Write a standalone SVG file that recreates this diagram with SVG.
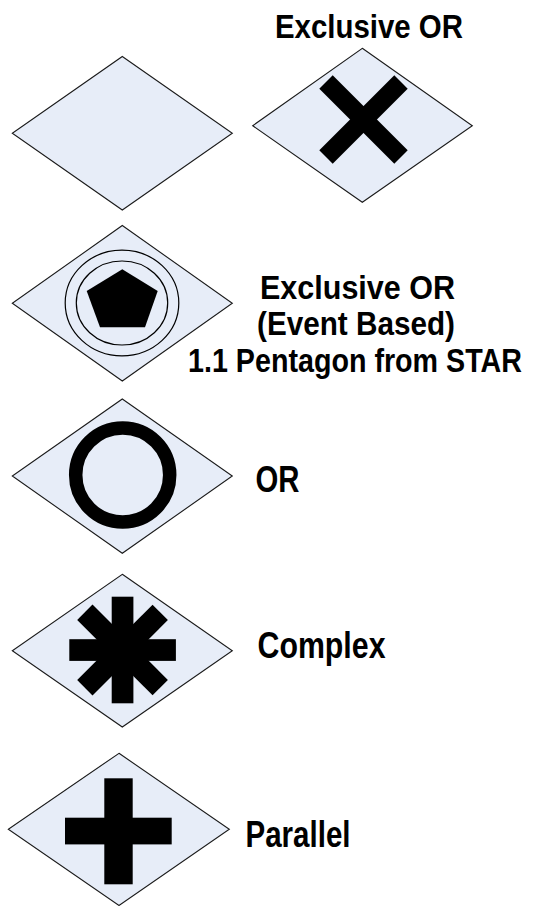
<svg xmlns="http://www.w3.org/2000/svg" width="542" height="906" viewBox="0 0 542 906">
<style>
.gw{fill:#E7EDF8;stroke:#1a1a1a;stroke-width:1.1;stroke-linejoin:miter}
.lbl{font-family:"Liberation Sans",Arial,sans-serif;font-weight:bold;font-size:34px;fill:#000}
.lg{font-size:36px}
.mk{fill:#000}
</style>
<rect width="542" height="906" fill="#fff"/>
<g id="gateway-plain">
<polygon class="gw" points="122.3,56.5 232.3,133.3 122.3,210 12.3,133.3"/>
</g>
<g id="gateway-xor">
<text class="lbl" x="275" y="37.5" textLength="188" lengthAdjust="spacingAndGlyphs">Exclusive OR</text>
<polygon class="gw" points="362.3,48.3 472.3,125.7 362.3,202.3 252.7,125.7"/>
<g stroke="#000" stroke-width="19" stroke-linecap="butt">
<line x1="326" y1="82" x2="401" y2="157"/>
<line x1="401" y1="82" x2="326" y2="157"/>
</g>
</g>
<g id="gateway-event">
<polygon class="gw" points="122.3,225.5 232.3,303.3 122.3,381 12.3,303.3"/>
<ellipse cx="122" cy="303" rx="56.8" ry="52.8" fill="none" stroke="#000" stroke-width="1.2"/>
<ellipse cx="122" cy="303" rx="45.7" ry="42" fill="none" stroke="#000" stroke-width="1.2"/>
<polygon class="mk" points="122.3,269.3 157.7,291 145,327.3 100,327.3 86.7,291"/>
<text class="lbl" x="260" y="298.5" textLength="195" lengthAdjust="spacingAndGlyphs">Exclusive OR</text>
<text class="lbl" x="257" y="335" textLength="198" lengthAdjust="spacingAndGlyphs">(Event Based)</text>
<text class="lbl" x="188" y="371.7" textLength="334" lengthAdjust="spacingAndGlyphs">1.1 Pentagon from STAR</text>
</g>
<g id="gateway-or">
<polygon class="gw" points="122.3,399 232.3,476 122.3,553.3 12.3,476"/>
<circle cx="122.7" cy="475" r="47" fill="none" stroke="#000" stroke-width="13.5"/>
<text class="lbl lg" x="255.5" y="492.3" textLength="44" lengthAdjust="spacingAndGlyphs">OR</text>
</g>
<g id="gateway-complex">
<polygon class="gw" points="122.3,574.3 232.3,650.7 122.3,727 12.3,650.7"/>
<g class="mk">
<rect x="111.7" y="596.7" width="21.7" height="106.6"/>
<rect x="69.3" y="639.2" width="106.6" height="21.7"/>
<rect x="111.7" y="596.7" width="21.7" height="106.6" transform="rotate(45 122.5 650)"/>
<rect x="111.7" y="596.7" width="21.7" height="106.6" transform="rotate(-45 122.5 650)"/>
</g>
<text class="lbl lg" x="257.5" y="658.3" textLength="128" lengthAdjust="spacingAndGlyphs">Complex</text>
</g>
<g id="gateway-parallel">
<polygon class="gw" points="119,753.3 229.3,829.3 119,905.5 8.3,829.3"/>
<g class="mk">
<rect x="104.3" y="778.3" width="28.4" height="106"/>
<rect x="65" y="817.7" width="106.7" height="26.7"/>
</g>
<text class="lbl lg" x="245.5" y="846.7" textLength="105" lengthAdjust="spacingAndGlyphs">Parallel</text>
</g>
<g id="connectors"></g>
</svg>
